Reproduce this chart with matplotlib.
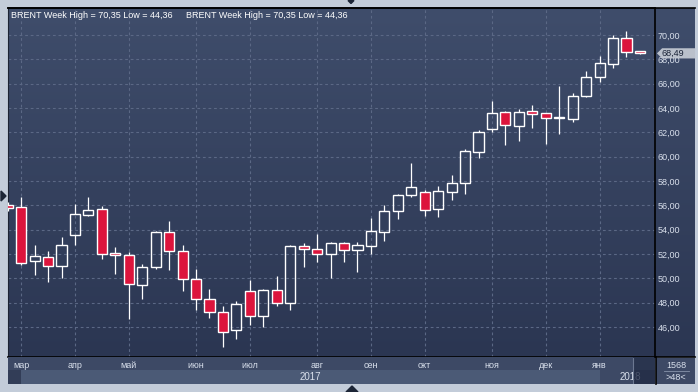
import numpy as np
import pandas as pd
import matplotlib
matplotlib.use('Agg')
import matplotlib.pyplot as plt
import matplotlib.transforms as mtransforms
from matplotlib.colors import LinearSegmentedColormap
from matplotlib.patches import Rectangle, Polygon

plt.rcParams['font.family'] = ['Liberation Sans', 'DejaVu Sans']

# ---------------- data: BRENT, weekly candles ----------------
weeks = pd.date_range('2017-02-27', periods=48, freq='7D')
opens = [56.05, 55.87, 51.43, 51.76, 51.02, 53.57, 55.21, 55.70, 52.08, 51.92,
         49.42, 50.90, 53.81, 52.25, 49.95, 48.30, 47.23, 45.72, 48.93, 46.90,
         49.01, 47.95, 52.62, 52.41, 52.00, 52.91, 52.33, 52.66, 53.81, 55.54,
         56.86, 57.10, 55.70, 57.11, 57.85, 60.40, 62.30, 63.64, 62.54, 63.73,
         63.56, 63.16, 63.12, 65.01, 66.57, 67.64, 69.73, 68.66]
highs = [56.30, 56.69, 52.69, 52.27, 53.40, 56.14, 56.69, 55.95, 52.58, 52.19,
         51.20, 53.85, 54.74, 52.69, 50.79, 49.15, 47.73, 48.16, 49.86, 49.12,
         50.19, 52.74, 52.93, 53.67, 52.99, 52.99, 52.99, 54.91, 56.03, 56.94,
         59.49, 57.27, 57.60, 58.49, 60.62, 62.19, 64.57, 63.78, 63.91, 64.24,
         63.56, 65.80, 65.23, 67.04, 68.27, 70.00, 70.35, 68.70]
lows = [55.50, 51.12, 50.24, 49.70, 50.03, 52.71, 55.15, 51.56, 50.38, 46.63,
        48.33, 50.74, 50.66, 48.93, 47.37, 46.74, 44.36, 44.98, 46.19, 46.02,
        47.75, 47.42, 50.90, 51.31, 50.00, 51.31, 50.49, 51.97, 53.04, 54.85,
        56.69, 55.10, 55.01, 56.43, 56.95, 59.91, 62.05, 60.95, 61.31, 62.38,
        61.06, 61.88, 62.87, 64.93, 66.16, 67.31, 68.22, 68.40]
closes = [55.75, 51.26, 51.84, 51.02, 52.74, 55.29, 55.62, 52.00, 51.92, 49.50,
          50.93, 53.81, 52.25, 49.95, 48.30, 47.23, 45.56, 47.89, 46.90, 49.01,
          47.95, 52.63, 52.40, 52.00, 52.91, 52.33, 52.74, 53.89, 55.54, 56.86,
          57.51, 55.62, 57.18, 57.80, 60.44, 62.00, 63.56, 62.62, 63.64, 63.53,
          63.20, 63.24, 64.96, 66.52, 67.67, 69.73, 68.63, 68.49]
month_names = ['янв', 'фев', 'мар', 'апр', 'май', 'июн',
               'июл', 'авг', 'сен', 'окт', 'ноя', 'дек']
y_ticks = [46, 48, 50, 52, 54, 56, 58, 60, 62, 64, 66, 68, 70]
instrument = 'BRENT'
total_bars = 1568

# ---------------- colours ----------------
RED = '#dc143c'
BG_TOP = '#3f4d6b'
BG_BOT = '#2b3652'
BORDER = '#c3ccd9'
TXT = '#d9e0ec'

W, H = 698, 392


def fr(x0, y0, x1, y1):
    # pixel box -> figure fraction
    return [x0 / W, 1 - y1 / H, (x1 - x0) / W, (y1 - y0) / H]


fig = plt.figure(figsize=(W / 100, H / 100), dpi=100, facecolor=BORDER)

# gradient background behind chart + price scale
ax_bg = fig.add_axes(fr(8, 8, 695, 357))
cmap = LinearSegmentedColormap.from_list('bg', [BG_TOP, BG_BOT])
ax_bg.imshow(np.linspace(0, 1, 256).reshape(-1, 1), cmap=cmap, aspect='auto',
             extent=[0, 1, 0, 1])
ax_bg.axis('off')

# ---------------- main chart ----------------
ax = fig.add_axes(fr(8, 8, 655, 357))
ax.set_facecolor('none')
xs = np.arange(len(weeks))
bw = 0.75
for x, o, h, l, c in zip(xs, opens, highs, lows, closes):
    top, bot = max(o, c), min(o, c)
    ax.plot([x, x], [top, h], color='white', lw=0.9, zorder=3, solid_capstyle='butt')
    ax.plot([x, x], [l, bot], color='white', lw=0.9, zorder=3, solid_capstyle='butt')
    fc = RED if c < o else 'none'
    ax.add_patch(Rectangle((x - bw / 2, bot), bw, top - bot, facecolor=fc,
                           edgecolor='white', lw=1.0, zorder=4))

ax.set_xlim(0.02, 48.12)
ax.set_ylim(43.52, 72.22)

month_pos = [i for i in range(1, len(weeks)) if weeks[i].month != weeks[i - 1].month]
ax.set_xticks(month_pos)
ax.set_yticks(y_ticks)
ax.set_yticklabels([f'{v:.2f}'.replace('.', ',') for v in y_ticks])
ax.yaxis.tick_right()
ax.tick_params(axis='y', length=0, pad=2.0, labelsize=6.5, labelcolor=TXT)
ax.tick_params(axis='x', length=0, labelbottom=False)
ax.grid(True, color='#5b6885', lw=0.8, linestyle=(0, (2.5, 2.5)))
for s in ['top', 'right', 'bottom']:
    ax.spines[s].set_color('black')
    ax.spines[s].set_linewidth(1.2)
ax.spines['left'].set_color('#1c2333')

# title line
label = f'{instrument} Week High = {max(highs):.2f} Low = {min(lows):.2f}'.replace('.', ',')
ax.text(0.0046, 0.979, label, transform=ax.transAxes, color='white', fontsize=6.5,
        va='center', ha='left')
ax.text(0.275, 0.979, label, transform=ax.transAxes, color='white', fontsize=6.5,
        va='center', ha='left')

# last price flag
last = closes[-1]
bt = mtransforms.blended_transform_factory(ax.transAxes, ax.transData)
ax.add_patch(Polygon([(1.003, last), (1.011, last + 0.42), (1.062, last + 0.42),
                      (1.062, last - 0.42), (1.011, last - 0.42)],
                     closed=True, transform=bt, facecolor='#c6cbd4', edgecolor='none',
                     alpha=0.92, clip_on=False, zorder=6))
ax.text(1.010, last, f'{last:.2f}'.replace('.', ','), transform=bt, color='#1b2438',
        fontsize=6.5, va='center', ha='left', zorder=7, clip_on=False)

# ---------------- time scale strip ----------------
axb = fig.add_axes(fr(8, 357, 655, 384))
axb.set_facecolor('#3d4965')
axb.set_xlim(ax.get_xlim())
axb.set_ylim(0, 1)
axb.axis('off')
axb.add_patch(Rectangle((0, 0), 1, 1, facecolor='#3d4965', edgecolor='none',
                        transform=axb.transAxes, zorder=0))
x0, x1 = ax.get_xlim()
year_start = [p for p in month_pos if weeks[p].month == 1][0]
strips = [(x0, month_pos[0], '#323d57'), (month_pos[0], year_start, '#4b5a76'),
          (year_start, 46.48, '#3d4965'), (46.48, x1, '#26304a')]
for a, b, col in strips:
    axb.add_patch(Rectangle((a, 0), b - a, 0.52, facecolor=col, edgecolor='none', zorder=1))
for p in month_pos:
    axb.text(p, 0.67, month_names[weeks[p].month - 1], color=TXT, fontsize=6.5,
             ha='center', va='center')
axb.text((month_pos[0] + year_start) / 2, 0.26, str(weeks[0].year), color=TXT,
         fontsize=7, ha='center', va='center', zorder=2)
axb.text((year_start + x1) / 2 + 0.2, 0.26, str(weeks[-1].year), color=TXT,
         fontsize=7, ha='center', va='center', zorder=2)
axb.add_patch(Rectangle((46.48, 0), x1 - 46.48, 1, facecolor='#26304a', edgecolor='none',
                        alpha=0.8, zorder=3))
axb.plot([46.48, 46.48], [0.05, 0.95], color='#6c7891', lw=0.8, zorder=4)

# ---------------- frame overlay ----------------
ov = fig.add_axes([0, 0, 1, 1])
ov.set_xlim(0, W)
ov.set_ylim(H, 0)
ov.axis('off')
ov.set_facecolor('none')
ov.add_patch(Rectangle((656, 357.5), 39, 26.5, facecolor='#3d4965', edgecolor='none'))
ov.plot([8, 695], [7.5, 7.5], color='black', lw=1.2)
ov.plot([655.5, 655.5], [357, 384], color='black', lw=1.2)
ov.plot([655, 695], [357, 357], color='black', lw=1.2)
ov.text(676, 365, str(total_bars), color=TXT, fontsize=6.5, ha='center', va='center')
ov.plot([664, 689], [371, 371], color='#8793aa', lw=0.6)
ov.text(676, 378, f'>{len(weeks)}<', color=TXT, fontsize=6.5, ha='center', va='center')
# small navigation arrows
ov.add_patch(Polygon([(348, 0.5), (354, 0.5), (351, 3.5)], closed=True, color='#1c2536'))
ov.add_patch(Polygon([(346, 392), (358, 392), (352, 386)], closed=True, color='#1c2536'))
ov.add_patch(Polygon([(1, 191), (1, 201), (6, 196)], closed=True, color='#1c2536'))

fig.savefig('out.png', dpi=100, facecolor=fig.get_facecolor())
